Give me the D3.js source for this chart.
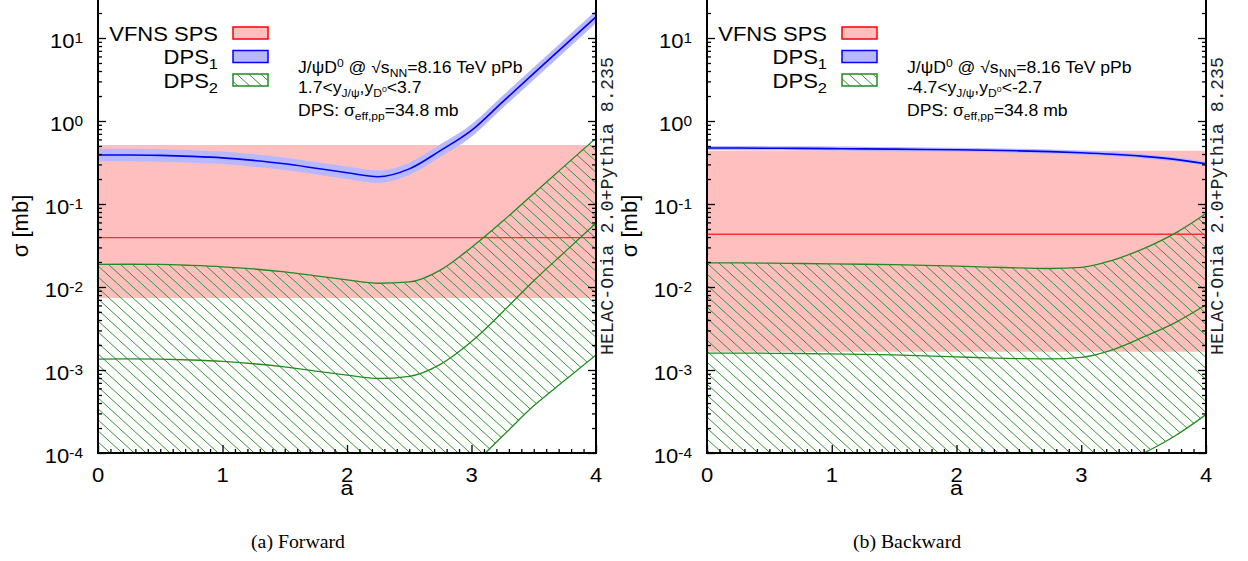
<!DOCTYPE html>
<html><head><meta charset="utf-8">
<script src="https://cdn.jsdelivr.net/npm/d3@7"></script>
<style>body{margin:0;background:#fff}svg{display:block}</style>
</head><body><svg id="c" width="1248" height="561"></svg>
<script>
// ---------------- data ----------------
const aGrid = [0,0.25,0.5,0.75,1,1.25,1.5,1.75,2,2.25,2.5,2.75,3,3.25,3.5,3.75,4];
const spsA = [0,4];
const xTickValues = [0,1,2,3,4];
const xTickLabels = ["0","1","2","3","4"];
const yTickExps = [-4,-3,-2,-1,0,1];
const legendLabels = ["VFNS SPS","DPS","DPS"];
const legendSubs = ["","1","2"];

// Forward
const fwdSpsCentral = [0.0393,0.0393];
const fwdSpsLo = [0.00736,0.00736];
const fwdSpsHi = [0.514,0.514];
const fwdDps1 = [0.39,0.39,0.385,0.375,0.36,0.335,0.305,0.27,0.238,0.213,0.265,0.44,0.77,1.70,3.74,8.2,18.0];
const fwdDps1Lo = [0.328,0.328,0.324,0.315,0.303,0.282,0.256,0.227,0.200,0.179,0.223,0.370,0.647,1.43,3.14,6.9,15.1];
const fwdDps1Hi = [0.464,0.464,0.458,0.446,0.428,0.399,0.363,0.321,0.283,0.253,0.315,0.524,0.916,2.02,4.45,9.76,21.4];
const fwdDps2 = [0.00135,0.00136,0.00135,0.00132,0.00127,0.00119,0.00109,0.00097,0.00087,0.00079,0.00084,0.00117,0.0022,0.0050,0.0119,0.0265,0.059];
const fwdDps2Lo = [4.0e-5,4.0e-5,4.0e-5,3.9e-5,3.7e-5,3.5e-5,3.2e-5,2.9e-5,2.6e-5,2.3e-5,2.5e-5,3.5e-5,7.0e-5,1.6e-4,3.7e-4,7.5e-4,1.52e-3];
const fwdDps2Hi = [0.0187,0.0188,0.0187,0.0182,0.0175,0.0165,0.0152,0.0136,0.0122,0.0111,0.0115,0.0160,0.030,0.062,0.134,0.29,0.62];

// Backward
const bwdSpsCentral = [0.0432,0.0432];
const bwdSpsLo = [0.00166,0.00166];
const bwdSpsHi = [0.438,0.438];
const bwdDps1 = [0.473,0.472,0.470,0.468,0.465,0.462,0.458,0.454,0.450,0.444,0.437,0.428,0.415,0.398,0.375,0.345,0.305];
const bwdDps1Lo = [0.446,0.445,0.443,0.441,0.439,0.436,0.432,0.428,0.425,0.419,0.412,0.404,0.392,0.375,0.354,0.325,0.288];
const bwdDps1Hi = [0.501,0.500,0.498,0.496,0.493,0.490,0.485,0.481,0.477,0.471,0.463,0.454,0.440,0.422,0.398,0.366,0.323];
const bwdDps2 = [0.0016,0.0016,0.00159,0.00158,0.00156,0.00154,0.00152,0.00148,0.00144,0.0014,0.00137,0.00136,0.00142,0.00175,0.0025,0.0037,0.0061];
const bwdDps2Lo = [6.5e-5,6.5e-5,6.5e-5,6.4e-5,6.3e-5,6.2e-5,6.1e-5,6.0e-5,5.8e-5,5.7e-5,5.6e-5,5.6e-5,5.9e-5,7.2e-5,1.0e-4,1.6e-4,2.9e-4];
const bwdDps2Hi = [0.0195,0.0195,0.0194,0.0192,0.019,0.0188,0.0186,0.0182,0.0178,0.0174,0.017,0.0167,0.0172,0.021,0.029,0.0443,0.077];

const fwdRange = "1.7<y";
const bwdRange = "-4.7<y";
const fwdRangeEnd = "<3.7";
const bwdRangeEnd = "<-2.7";

// ---------------- drawing ----------------
const svg = d3.select("#c");
const SANS = "'Liberation Sans', Arial, Helvetica, sans-serif";
const SX = 1.1; // horizontal text stretch
const defs = svg.append("defs");

function makeHatch(id) {
  const p = defs.append("pattern").attr("id", id).attr("patternUnits","userSpaceOnUse")
    .attr("width", 12).attr("height", 11);
  p.append("path").attr("d","M-1,-0.917L13,11.917M-13,-0.917L1,11.917M11,-0.917L25,11.917")
    .attr("stroke","#2f952f").attr("stroke-width",1).attr("fill","none");
}
makeHatch("hatch");

function stext(parent, x, y, anchor, size, family) {
  const g = parent.append("g").attr("transform", `translate(${x},${y}) scale(${SX},1)`);
  return g.append("text").attr("text-anchor", anchor).attr("font-size", size)
    .attr("font-family", family || SANS).attr("fill","#000");
}
function rich(t, segs, base) {
  let cur = 0;
  segs.forEach(s => {
    const off = s.off || 0;
    t.append("tspan").attr("dy", off - cur).attr("font-size", s.size || base).text(s.t);
    cur = off;
  });
}

const Y0 = 453, DEC = 83;

function panel(cfg, idx) {
  const x = d3.scaleLinear().domain([0,4]).range([cfg.x0, cfg.x1]);
  const yTop = 1.5;
  const y = d3.scaleLog().domain([1e-4, Math.pow(10, yTop)]).range([Y0, Y0 - (yTop + 4) * DEC]);
  const clipId = "clip" + idx;
  defs.append("clipPath").attr("id", clipId).append("rect")
    .attr("x", cfg.x0).attr("y", y.range()[1]).attr("width", cfg.x1 - cfg.x0).attr("height", Y0 - y.range()[1]);
  const g = svg.append("g").attr("clip-path", `url(#${clipId})`);

  const sps = spsA.map((a,i) => ({a, c: cfg.spsC[i], lo: cfg.spsLo[i], hi: cfg.spsHi[i]}));
  const d1 = aGrid.map((a,i) => ({a, c: cfg.d1[i], lo: cfg.d1Lo[i], hi: cfg.d1Hi[i]}));
  const d2 = aGrid.map((a,i) => ({a, c: cfg.d2[i], lo: cfg.d2Lo[i], hi: cfg.d2Hi[i]}));

  const area = d3.area().x(d => x(d.a)).y0(d => y(d.lo)).y1(d => y(d.hi)).curve(d3.curveMonotoneX);
  const line = k => d3.line().x(d => x(d.a)).y(d => y(d[k])).curve(d3.curveMonotoneX);

  // SPS band
  g.append("path").datum(sps).attr("d", area).attr("fill", "#ffbfbf");
  g.append("path").datum(sps).attr("d", line("c")).attr("fill","none").attr("stroke","#ff3030").attr("stroke-width",1.4);
  // DPS2 hatch
  g.append("path").datum(d2).attr("d", area).attr("fill", "url(#hatch)");
  ["hi","c","lo"].forEach(k => g.append("path").datum(d2).attr("d", line(k))
    .attr("fill","none").attr("stroke","#228b22").attr("stroke-width",1.3));
  // DPS1
  g.append("path").datum(d1).attr("d", area).attr("fill", "#b8b8ff");
  g.append("path").datum(d1).attr("d", line("c")).attr("fill","none").attr("stroke","#0000ee").attr("stroke-width",1.6);

  // axes
  const majorY = yTickExps.map(e => Math.pow(10, e));
  const minorY = [];
  for (let e = -4; e <= 1; e++) for (let k = 2; k <= 9; k++) { const v = k * Math.pow(10, e); if (v <= Math.pow(10, yTop)) minorY.push(v); }
  const minorX = d3.range(1, 40).filter(i => i % 10 !== 0).map(i => i / 10);

  const ax = svg.append("g");
  const style = s => { s.select(".domain").remove(); s.selectAll("line").attr("stroke","#000").attr("stroke-width",1.3); };
  ax.append("g").attr("transform", `translate(0,${Y0})`).call(d3.axisBottom(x).tickValues(xTickValues).tickSize(-8).tickFormat("")).call(style);
  ax.append("g").attr("transform", `translate(0,${Y0})`).call(d3.axisBottom(x).tickValues(minorX).tickSize(-4).tickFormat("")).call(style);
  ax.append("g").attr("transform", `translate(${cfg.x0},0)`).call(d3.axisLeft(y).tickValues(majorY).tickSize(-8).tickFormat("")).call(style);
  ax.append("g").attr("transform", `translate(${cfg.x0},0)`).call(d3.axisLeft(y).tickValues(minorY).tickSize(-4).tickFormat("")).call(style);
  ax.append("g").attr("transform", `translate(${cfg.x1},0)`).call(d3.axisRight(y).tickValues(majorY).tickSize(-8).tickFormat("")).call(style);
  ax.append("g").attr("transform", `translate(${cfg.x1},0)`).call(d3.axisRight(y).tickValues(minorY).tickSize(-4).tickFormat("")).call(style);
  // frame lines
  const yt = y.range()[1];
  ax.append("path").attr("d", `M${cfg.x0},${yt}V${Y0}H${cfg.x1}V${yt}`).attr("fill","none").attr("stroke","#000").attr("stroke-width",2);

  // tick labels
  yTickExps.forEach(e => {
    const t = stext(svg, cfg.x0 - 15, y(Math.pow(10, e)) + 10, "end", 20);
    rich(t, [{t:"10"},{t:String(e), off:-5, size:14}], 20);
  });
  xTickValues.forEach((v,i) => {
    stext(svg, x(v), 482, "middle", 20).text(xTickLabels[i]);
  });
  stext(svg, (cfg.x0 + cfg.x1) / 2, 495, "middle", 21).text("a");
  svg.append("g").attr("transform", `translate(${cfg.x0 - 78},226) rotate(-90)`)
    .append("text").attr("text-anchor","middle").attr("dominant-baseline","central")
    .attr("font-family", SANS).attr("font-size", 22).text("σ [mb]");
  svg.append("g").attr("transform", `translate(${cfg.x1 + 12},206) rotate(-90)`)
    .append("text").attr("text-anchor","middle").attr("dominant-baseline","central")
    .attr("font-family","'Liberation Mono', 'Courier New', monospace").attr("font-size", 18.4).attr("fill","#222")
    .text("HELAC-Onia 2.0+Pythia 8.235");
  stext(svg, cfg.x0 + 200, 548, "middle", 18, "'Liberation Serif', 'Times New Roman', serif").text(cfg.caption);

  // legend
  const lx = cfg.x0 + 120;
  const rows = [40.5, 64, 87.5];
  legendLabels.forEach((lab, i) => {
    const t = stext(svg, lx, rows[i], "end", 20);
    if (legendSubs[i]) rich(t, [{t: lab},{t: legendSubs[i], off:5, size:15}], 20);
    else t.text(lab);
  });
  const sw = [{fill:"#ffbfbf", stroke:"#ff0000"},{fill:"#b8b8ff", stroke:"#0000ff"},{fill:"url(#hatch)", stroke:"#228b22"}];
  sw.forEach((s,i) => {
    svg.append("rect").attr("x", cfg.x0 + 135).attr("y", rows[i] - 13.5).attr("width", 35).attr("height", 12)
      .attr("fill", s.fill).attr("stroke", s.stroke).attr("stroke-width", 1.5);
  });

  // annotation
  const ax0 = cfg.x0 + 200;
  rich(stext(svg, ax0, 72.5, "start", 16), [{t:"J/ψD"},{t:"0",off:-6,size:11},{t:" @ √s"},{t:"NN",off:4,size:11},{t:"=8.16 TeV pPb"}], 16);
  rich(stext(svg, ax0, 93, "start", 16), [{t:cfg.r0},{t:"J/ψ",off:4,size:11},{t:",y"},{t:"D",off:4,size:11},{t:"0",off:-1,size:8},{t:cfg.r1}], 16);
  rich(stext(svg, ax0, 116, "start", 16), [{t:"DPS: σ"},{t:"eff,pp",off:4,size:11},{t:"=34.8 mb"}], 16);
}

panel({x0: 98, x1: 596, spsC: fwdSpsCentral, spsLo: fwdSpsLo, spsHi: fwdSpsHi,
  d1: fwdDps1, d1Lo: fwdDps1Lo, d1Hi: fwdDps1Hi, d2: fwdDps2, d2Lo: fwdDps2Lo, d2Hi: fwdDps2Hi,
  caption: "(a) Forward", r0: fwdRange, r1: fwdRangeEnd}, 0);
panel({x0: 707, x1: 1206, spsC: bwdSpsCentral, spsLo: bwdSpsLo, spsHi: bwdSpsHi,
  d1: bwdDps1, d1Lo: bwdDps1Lo, d1Hi: bwdDps1Hi, d2: bwdDps2, d2Lo: bwdDps2Lo, d2Hi: bwdDps2Hi,
  caption: "(b) Backward", r0: bwdRange, r1: bwdRangeEnd}, 1);
</script></body></html>
